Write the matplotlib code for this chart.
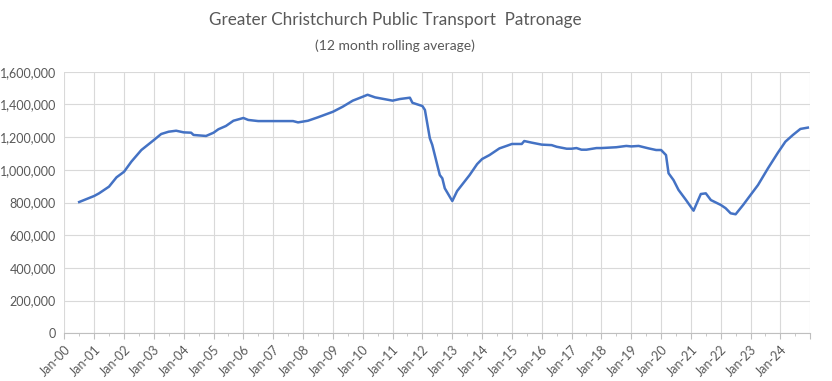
import matplotlib
matplotlib.use("Agg")
import matplotlib.pyplot as plt
import matplotlib.dates as mdates
from matplotlib.ticker import FuncFormatter, MultipleLocator
import pandas as pd

# Data (12-month rolling average patronage)
months = [
    "2000-07", "2001-01", "2001-03", "2001-07", "2001-10", "2002-01", "2002-04", "2002-08",
    "2003-01", "2003-04", "2003-07", "2003-10", "2004-01", "2004-04", "2004-05", "2004-10",
    "2005-01", "2005-03", "2005-06", "2005-09", "2006-01", "2006-03", "2006-07", "2007-01",
    "2007-09", "2007-11", "2008-03", "2008-07", "2009-01", "2009-05", "2009-09", "2010-01",
    "2010-03", "2010-06", "2011-01", "2011-04", "2011-08", "2011-09", "2012-01", "2012-02",
    "2012-04", "2012-05", "2012-08", "2012-09", "2012-10", "2013-01", "2013-03", "2013-08",
    "2013-11", "2014-01", "2014-04", "2014-08", "2014-11", "2015-01", "2015-05", "2015-06",
    "2015-09", "2016-01", "2016-05", "2016-07", "2016-11", "2017-01", "2017-03", "2017-05",
    "2017-07", "2017-11", "2018-01", "2018-07", "2018-11", "2019-01", "2019-04", "2019-08",
    "2019-11", "2020-01", "2020-03", "2020-04", "2020-06", "2020-08", "2020-11", "2021-02",
    "2021-05", "2021-07", "2021-09", "2022-01", "2022-03", "2022-05", "2022-07", "2022-10",
    "2022-12", "2023-04", "2023-08", "2023-12", "2024-03", "2024-06", "2024-09", "2024-12",
]
patronage = [
    803000, 840000, 856000, 897000, 954000, 988000, 1050000, 1121000,
    1182000, 1219000, 1233000, 1239000, 1229000, 1227000, 1213000, 1207000,
    1227000, 1248000, 1268000, 1300000, 1317000, 1305000, 1298000, 1298000,
    1298000, 1290000, 1300000, 1321000, 1355000, 1386000, 1423000, 1447000,
    1459000, 1443000, 1423000, 1433000, 1441000, 1410000, 1390000, 1366000,
    1193000, 1152000, 968000, 948000, 887000, 809000, 870000, 968000,
    1035000, 1066000, 1090000, 1131000, 1147000, 1158000, 1158000, 1176000,
    1166000, 1154000, 1151000, 1141000, 1129000, 1129000, 1133000, 1123000,
    1123000, 1133000, 1133000, 1138000, 1146000, 1143000, 1146000, 1131000,
    1121000, 1121000, 1090000, 979000, 937000, 877000, 815000, 750000,
    852000, 856000, 815000, 785000, 765000, 734000, 728000, 785000,
    826000, 907000, 1009000, 1105000, 1172000, 1213000, 1250000, 1258000,
]
title = "Greater Christchurch Public Transport  Patronage"
subtitle = "(12 month rolling average)"

dates = pd.to_datetime(months, format="%Y-%m")

FONT = ["Lato", "DejaVu Sans"]
TXT = "#595959"
GRID = "#D9D9D9"
LINE = "#4472C4"

fig = plt.figure(figsize=(8.32, 3.81), dpi=100)
ax = fig.add_axes([0.0773, 0.1252, 0.974 - 0.0773, 0.8118 - 0.1252])

ax.plot(dates, patronage, color=LINE, linewidth=1.8, solid_joinstyle="round")

ax.set_xlim(pd.Timestamp("2000-01-01"), pd.Timestamp("2025-01-01"))
ax.set_ylim(0, 1600000)
ax.yaxis.set_major_locator(MultipleLocator(200000))
ax.yaxis.set_major_formatter(FuncFormatter(lambda v, p: f"{int(v):,}"))

ax.xaxis.set_major_locator(mdates.YearLocator(1, month=1, day=1))
ax.xaxis.set_minor_locator(mdates.MonthLocator(bymonth=7))
ax.xaxis.set_major_formatter(mdates.DateFormatter("Jan-%y"))

ax.grid(True, which="major", color=GRID, linewidth=0.8)
ax.set_axisbelow(True)
for s in ["top", "right", "left"]:
    ax.spines[s].set_visible(False)
ax.spines["bottom"].set_color("#BFBFBF")
ax.spines["bottom"].set_linewidth(0.8)

ax.tick_params(axis="y", length=0, labelsize=9, labelcolor=TXT, pad=6)
ax.tick_params(axis="x", which="major", length=4, color="#BFBFBF", labelsize=9, labelcolor=TXT)
ax.tick_params(axis="x", which="minor", length=2, color="#BFBFBF")
for lbl in ax.get_xticklabels():
    lbl.set_rotation(45)
    lbl.set_ha("right")
    lbl.set_rotation_mode("anchor")
    lbl.set_family(FONT)
for lbl in ax.get_yticklabels():
    lbl.set_family(FONT)
fig.canvas.draw()
for lbl in ax.get_xticklabels():
    if lbl.get_text() == "Jan-25":
        lbl.set_visible(False)

fig.text(395 / 832, 1 - 20 / 381, title, ha="center", va="center",
         fontsize=12.3, color=TXT, family=FONT)
fig.text(395 / 832, 1 - 46 / 381, subtitle, ha="center", va="center",
         fontsize=10, color=TXT, family=FONT)

fig.savefig("out.png", dpi=100, facecolor="white")
